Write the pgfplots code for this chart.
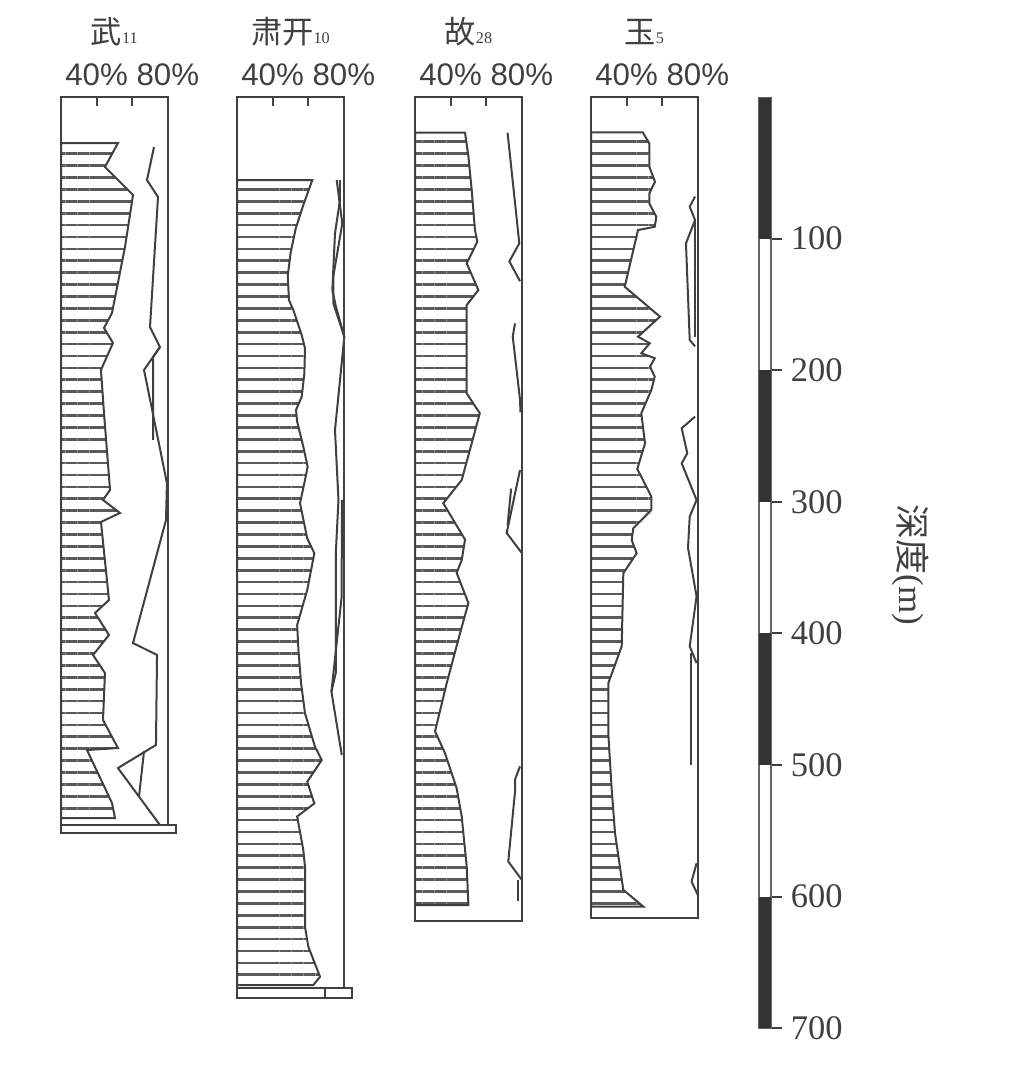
\documentclass[border=0pt]{standalone}
\usepackage{fontspec}
\setmainfont{Liberation Serif}
\newfontfamily\cjk{Noto Sans CJK SC}
\newfontfamily\sans{Liberation Sans}
\usepackage{pgfplots}
\pgfplotsset{compat=1.18}
\usetikzlibrary{patterns.meta}
\colorlet{ink}{black!75}

\pgfplotsset{
  panel/.style={
    x=0.356pt, y=0.5264pt, y dir=reverse,
    xmin=0, xmax=120, ymin=-7.6,
    anchor=north west, clip=false, no markers,
    axis line style={line width=0.8pt, draw=ink},
    xtick={40,80}, xticklabels={}, xtick pos=right, ytick=\empty,
    tick align=inside, major tick length=3.6pt,
    tick style={line width=0.8pt, draw=ink},
  },
  hatch/.style={draw=ink, line width=0.8pt,
    pattern={Lines[angle=0,distance=4.76pt,line width=1.1pt]}, pattern color=black!65},
  ratio/.style={draw=ink, line width=0.8pt},
}
\newcommand{\heads}[2]{%
  \node[text=ink] at (axis cs:60,-57) {{\fontsize{12.5}{12}\selectfont\cjk #1}{\fontsize{6.5}{7}\selectfont #2}};
  \node[text=ink,font=\sans\fontsize{12.5}{14}\selectfont] at (axis cs:40,-24.3) {40\%};
  \node[text=ink,font=\sans\fontsize{12.5}{14}\selectfont] at (axis cs:120,-24.3) {80\%};
}

\begin{document}
\begin{tikzpicture}
\path[use as bounding box] (0pt,0pt) rectangle (411.2pt,-428pt);

% 武11
\begin{axis}[panel, at={(24.4pt,-38.8pt)}, ymax=551.7]
  \addplot[hatch] coordinates {(0,27.4)(64.0,27.4)(49.4,45.6)(80.9,66.9)(71.9,106.4)(57.3,156.5)(48.3,167.9)(58.4,179.3)(44.9,199.8)(48.3,232.5)(55.1,291.0)(47.2,298.6)(66.3,308.5)(44.9,315.3)(53.9,374.6)(38.2,384.5)(53.9,401.2)(36.0,416.4)(49.4,430.1)(47.2,465.8)(64.0,487.1)(29.2,488.6)(57.3,528.9)(60.7,540.3)(0,540.3)} -- cycle;
  \addplot[ratio] coordinates {(104.5,30.4)(96.6,55.5)(109.0,68.4)(100.0,167.2)(111.2,182.4)(93.3,199.8)(119.0,285.7)(118.0,313.8)(80.9,407.3)(107.9,416.4)(106.7,484.8)(64.0,502.3)(111.2,545.6)};
  \addplot[ratio] coordinates {(111.2,182.4)(103.4,190.0)(103.4,253.0)};
  \addplot[ratio] coordinates {(93.3,489.4)(87.6,524.3)};
  \addplot[ratio, fill=white] coordinates {(0,545.6)(129,545.6)(129,551.7)(0,551.7)} -- cycle;
  \heads{武}{11}
\end{axis}

% 肃开10
\begin{axis}[panel, at={(94.8pt,-38.8pt)}, ymax=677.1]
  \addplot[hatch] coordinates {(0,55.5)(84.6,55.5)(74.5,74.5)(66.0,92.2)(60.3,110.7)(57.0,128.4)(58.4,146.7)(63.3,154.3)(72.7,173.3)(76.4,183.4)(75.7,202.4)(72.7,220.1)(66.3,230.2)(67.6,239.1)(74.5,258.1)(79.4,273.3)(76.4,283.4)(70.8,301.1)(78.9,327.7)(86.9,339.1)(78.9,367.0)(67.6,393.6)(69.0,412.6)(72.0,437.9)(76.4,460.7)(87.6,486.1)(95.2,496.2)(78.9,512.7)(86.9,529.2)(67.6,539.1)(74.5,564.6)(76.4,577.3)(76.4,622.9)(80.1,638.0)(93.3,660.9)(85.7,667.2)(0,667.2)} -- cycle;
  \addplot[ratio] coordinates {(112.0,55.5)(118.3,88.4)(108.2,128.9)(108.2,149.2)(120.6,174.5)(110.1,245.4)(114.0,298.6)(111.2,336.6)(111.0,430.0)(106.1,444.2)(117.7,492.4)};
  \addplot[ratio] coordinates {(115.7,55.5)(115.7,70.7)(110.1,96.0)(107.1,139.1)(111.2,151.8)(120.6,174.5)};
  \addplot[ratio] coordinates {(117.7,298.6)(117.7,340.0)(117.6,372.1)(106.1,444.2)};
  \addplot[ratio, fill=white] coordinates {(0,669.5)(129,669.5)(129,677.1)(0,677.1)} -- cycle;
  \addplot[ratio] coordinates {(98.9,669.5)(98.9,677.1)};
  \heads{肃开}{10}
\end{axis}

% 故28
\begin{axis}[panel, at={(166pt,-38.8pt)}, ymax=618.5]
  \addplot[hatch] coordinates {(0,19.5)(56.2,19.5)(60.0,37.5)(63.7,63.1)(67.4,93.5)(70.0,102.4)(58.1,118.8)(71.2,139.1)(58.1,150.5)(58.1,217.6)(72.8,232.7)(63.7,255.5)(52.5,283.4)(31.8,301.1)(56.2,328.7)(52.5,344.2)(46.8,354.0)(60.0,376.9)(50.6,399.9)(35.6,437.9)(22.5,474.4)(33.7,491.0)(46.8,517.6)(52.5,539.2)(58.1,577.2)(60.0,606.4)(0,606.4)} -- cycle;
  \addplot[ratio] coordinates {(104.0,19.5)(117.2,103.6)(106.0,117.3)(118.0,132.4)};
  \addplot[ratio] coordinates {(112.4,164.4)(109.8,174.5)(112.4,189.4)(118.0,222.6)(118.5,232.0)};
  \addplot[ratio] coordinates {(118.0,275.8)(103.0,323.7)(119.9,338.8)};
  \addplot[ratio] coordinates {(108.0,290.0)(104.0,318.0)};
  \addplot[ratio] coordinates {(118.0,501.0)(112.4,511.0)(112.4,520.0)(104.8,573.3)(119.9,587.2)};
  \addplot[ratio] coordinates {(116.0,587.0)(116.0,603.0)};
  \heads{故}{28}
\end{axis}

% 玉5
\begin{axis}[panel, at={(236.4pt,-38.8pt)}, ymax=616.3]
  \addplot[hatch] coordinates {(0,19.2)(58.1,19.2)(65.5,27.6)(65.5,45.4)(71.9,56.8)(65.5,65.7)(65.5,73.3)(73.4,83.4)(71.6,91.0)(52.8,93.5)(37.9,136.6)(77.5,159.3)(52.8,174.5)(66.0,179.5)(56.5,187.1)(71.6,190.9)(66.3,197.3)(71.6,204.9)(67.8,215.0)(56.5,232.7)(60.7,255.5)(52.0,275.0)(67.8,296.0)(67.8,306.2)(47.5,320.1)(45.7,329.0)(51.3,339.1)(36.3,354.3)(34.5,409.8)(19.4,437.9)(19.4,475.9)(23.3,519.0)(27.0,551.9)(36.3,594.9)(58.8,607.6)(0,607.6)} -- cycle;
  \addplot[ratio] coordinates {(116.9,68.1)(110.9,75.7)(116.9,85.9)(106.7,103.6)(110.9,177.0)(116.9,181.9)};
  \addplot[ratio] coordinates {(116.9,85.9)(116.9,175.0)};
  \addplot[ratio] coordinates {(116.9,235.3)(101.9,244.1)(108.2,263.1)(101.9,270.7)(118.6,298.6)(110.9,311.3)(109.0,335.0)(118.6,371.8)(110.9,409.8)(118.6,422.5)};
  \addplot[ratio] coordinates {(112.4,415.0)(112.4,500.0)};
  \addplot[ratio] coordinates {(118.6,574.7)(113.0,588.6)(120.0,598.7)};
  \heads{玉}{5}
\end{axis}

% depth scale
\begin{axis}[at={(303.6pt,-39.1pt)}, anchor=north west, clip=false,
  x=4.8pt, y=0.5264pt, y dir=reverse,
  xmin=0, xmax=1, ymin=-7, ymax=700,
  axis line style={line width=0.5pt, draw=black!60},
  xtick=\empty, ytick={100,200,...,700},
  ytick pos=right, yticklabel pos=right,
  tick align=outside, major tick length=4.4pt,
  tick style={line width=0.8pt, draw=ink},
  /pgf/number format/assume math mode=true,
  yticklabel style={text=ink, font=\fontsize{13.8}{15}\selectfont},
]
  \addplot[fill=black!80, draw=none] coordinates {(0,-7)(1,-7)(1,100)(0,100)} -- cycle;
  \addplot[fill=black!80, draw=none] coordinates {(0,200)(1,200)(1,300)(0,300)} -- cycle;
  \addplot[fill=black!80, draw=none] coordinates {(0,400)(1,400)(1,500)(0,500)} -- cycle;
  \addplot[fill=black!80, draw=none] coordinates {(0,600)(1,600)(1,700)(0,700)} -- cycle;
  \node[rotate=-90, text=ink, font=\fontsize{14}{15}\selectfont] at (axis cs:12.6,348) {{\cjk 深度}(m)};
\end{axis}
\end{tikzpicture}
\end{document}
